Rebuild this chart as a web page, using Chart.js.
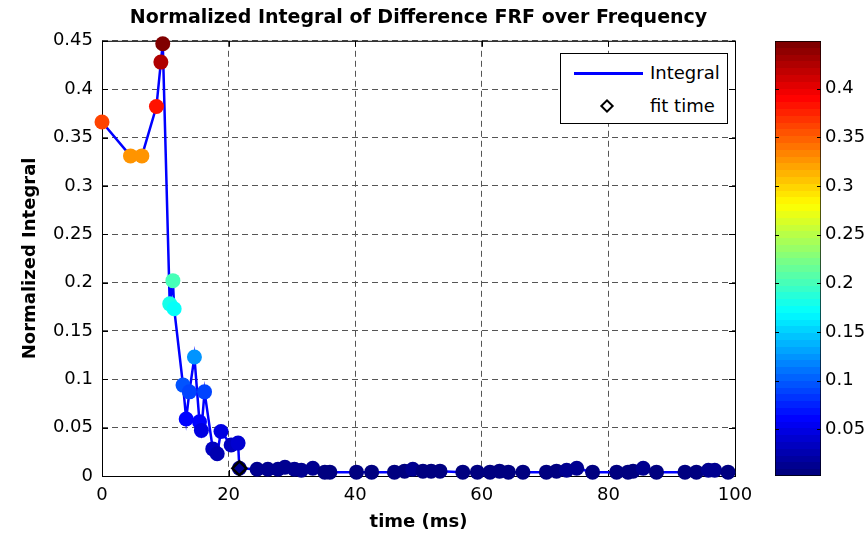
<!DOCTYPE html>
<html>
<head>
<meta charset="utf-8">
<title>Normalized Integral of Difference FRF over Frequency</title>
<script src="https://cdn.jsdelivr.net/npm/chart.js@4"></script>
<style>
  body { margin: 0; background: #fff; }
  #wrap { position: relative; width: 868px; height: 535px; font-family: "DejaVu Sans", sans-serif; }
  #mainChart { position: absolute; left: 0; top: 0; }
  #colorBar { position: absolute; left: 760px; top: 0; }
  .legend { position: absolute; left: 560px; top: 53px; width: 166px; height: 69px; border: 1px solid #000; background: #fff; }
  .legend .line { position: absolute; left: 13px; top: 18px; width: 69px; height: 3px; background: #0000ff; }
  .legend .diamond { position: absolute; left: 41px; top: 47px; width: 6px; height: 6px; border: 2.5px solid #000; transform: rotate(45deg); }
  .legend .lbl { position: absolute; left: 89px; font-size: 18px; line-height: 20px; color: #000; }
</style>
</head>
<body>
<div id="wrap">
  <canvas id="mainChart" width="868" height="535"></canvas>
  <canvas id="colorBar" width="108" height="535"></canvas>
  <div class="legend">
    <span class="line"></span><span class="lbl" style="top:9px">Integral</span>
    <span class="diamond"></span><span class="lbl" style="top:42px">fit time</span>
  </div>
</div>
<script>
// time axis (ms) and normalized integral
const timeMs = [0, 4.5, 6.3, 8.6, 9.3, 9.6, 10.7, 11.2, 11.4, 12.8,
  13.3, 13.8, 14.6, 15.4, 15.7, 16.2, 17.5, 18.2, 18.8, 20.4,
  21.5, 21.7, 24.5, 26.2, 27.8, 28.9, 30.4, 31.5, 33.3, 35.2,
  36.0, 40.2, 42.6, 46.2, 47.8, 49.1, 50.7, 52.0, 53.4, 57.0,
  59.3, 61.3, 62.8, 64.2, 66.5, 70.2, 71.8, 73.4, 75.0, 77.5,
  81.3, 83.1, 83.9, 85.5, 87.6, 92.1, 93.9, 95.8, 96.8, 98.9];
const integralValues = [0.366, 0.331, 0.331, 0.382, 0.428, 0.447, 0.178, 0.202, 0.173, 0.094,
  0.059, 0.087, 0.123, 0.056, 0.047, 0.087, 0.028, 0.023, 0.046, 0.032,
  0.034, 0.008, 0.007, 0.007, 0.007, 0.009, 0.007, 0.006, 0.008, 0.004,
  0.004, 0.004, 0.004, 0.004, 0.005, 0.007, 0.005, 0.005, 0.005, 0.004,
  0.004, 0.004, 0.005, 0.004, 0.004, 0.004, 0.005, 0.006, 0.008, 0.004,
  0.004, 0.004, 0.005, 0.008, 0.004, 0.004, 0.004, 0.006, 0.006, 0.004];
const fitTime = [21.7];
const fitValue = [0.008];
const colorbarTicks = [0.05, 0.1, 0.15, 0.2, 0.25, 0.3, 0.35, 0.4];
const colorMin = 0.002;
const colorMax = 0.449;

const fontFamily = "'DejaVu Sans', sans-serif";

// MATLAB style labels: 0.4 not 0.40
const shortLabel = (v) => String(Number(Number(v).toFixed(2)));

// MATLAB jet, 64 levels
function jetIndex(i) {
  const t = i / 63;
  const c = (x) => Math.round(255 * Math.min(1, Math.max(0, 1.5 - Math.abs(x))));
  return `rgb(${c(4 * t - 3)},${c(4 * t - 2)},${c(4 * t - 1)})`;
}
function jet(v) {
  let t = (v - colorMin) / (colorMax - colorMin);
  t = Math.min(1, Math.max(0, t));
  return jetIndex(Math.round(t * 63));
}

const pointColors = integralValues.map((v) => jet(v));
const integralPoints = timeMs.map((t, i) => ({ x: t, y: integralValues[i] }));
const fitPoints = fitTime.map((t, i) => ({ x: t, y: fitValue[i] }));

// black box round the plot plus small inward tick marks
const axesBox = {
  id: "axesBox",
  beforeDatasetsDraw(chart) {
    const { ctx, chartArea: a, scales } = chart;
    ctx.save();
    ctx.strokeStyle = "#000";
    ctx.lineWidth = 1;
    ctx.strokeRect(a.left + 0.5, a.top + 0.5, a.right - a.left, a.bottom - a.top);
    ctx.beginPath();
    scales.x.ticks.forEach((t) => {
      const px = Math.round(scales.x.getPixelForValue(t.value)) + 0.5;
      ctx.moveTo(px, a.bottom); ctx.lineTo(px, a.bottom - 6);
      ctx.moveTo(px, a.top); ctx.lineTo(px, a.top + 6);
    });
    scales.y.ticks.forEach((t) => {
      const py = Math.round(scales.y.getPixelForValue(t.value)) + 0.5;
      ctx.moveTo(a.left, py); ctx.lineTo(a.left + 6, py);
      ctx.moveTo(a.right, py); ctx.lineTo(a.right - 6, py);
    });
    ctx.stroke();
    ctx.restore();
  },
};

new Chart(document.getElementById("mainChart"), {
  type: "scatter",
  data: {
    datasets: [
      {
        label: "fit time",
        data: fitPoints,
        pointStyle: "rectRot",
        pointRadius: 7,
        backgroundColor: "rgba(0,0,0,0)",
        borderColor: "#000",
        borderWidth: 2.5,
        clip: false,
        order: 0,
      },
      {
        label: "Integral",
        data: integralPoints,
        showLine: true,
        borderColor: "#0000ff",
        borderWidth: 2.5,
        pointRadius: 7.5,
        pointBackgroundColor: pointColors,
        pointBorderColor: pointColors,
        pointBorderWidth: 0,
        clip: false,
        order: 1,
      },
    ],
  },
  options: {
    responsive: false,
    animation: false,
    events: [],
    layout: { padding: { left: 0, right: 133, top: 0, bottom: 0 } },
    plugins: {
      legend: { display: false },
      tooltip: { enabled: false },
      title: {
        display: true,
        fullSize: false,
        text: "Normalized Integral of Difference FRF over Frequency",
        color: "#000",
        font: { family: fontFamily, size: 19, weight: "bold" },
        padding: { top: 7, bottom: 11 },
      },
    },
    scales: {
      x: {
        type: "linear",
        min: 0,
        max: 100,
        ticks: { stepSize: 20, color: "#000", font: { family: fontFamily, size: 18 }, padding: 9 },
        grid: { color: "#555", drawTicks: false },
        border: { display: false, dash: [6, 4] },
        title: {
          display: true,
          text: "time (ms)",
          color: "#000",
          font: { family: fontFamily, size: 18, weight: "bold" },
          padding: { top: 4, bottom: 2 },
        },
        afterFit: (scale) => { scale.height = 59; },
      },
      y: {
        min: 0,
        max: 0.45,
        ticks: {
          stepSize: 0.05,
          color: "#000",
          font: { family: fontFamily, size: 18 },
          padding: 9,
          callback: (v) => shortLabel(v),
        },
        grid: { color: "#555", drawTicks: false },
        border: { display: false, dash: [6, 4] },
        title: {
          display: true,
          text: "Normalized Integral",
          color: "#000",
          font: { family: fontFamily, size: 18, weight: "bold" },
          padding: { top: 20, bottom: 0 },
        },
        afterFit: (scale) => { scale.width = 102; },
      },
    },
  },
  plugins: [axesBox],
});

// colour bar: one floating bar spanning the colour range, filled with jet bands
function jetGradient(chart) {
  const area = chart.chartArea;
  if (!area) return null;
  const g = chart.ctx.createLinearGradient(0, area.bottom, 0, area.top);
  for (let i = 0; i < 64; i++) {
    const c = jetIndex(i);
    g.addColorStop(i / 64, c);
    g.addColorStop((i + 1) / 64, c);
  }
  return g;
}

const barTicks = {
  id: "barTicks",
  afterDatasetsDraw(chart) {
    const { ctx, chartArea: a, scales } = chart;
    ctx.save();
    ctx.strokeStyle = "#000";
    ctx.lineWidth = 1;
    ctx.beginPath();
    scales.y.ticks.forEach((t) => {
      const py = Math.round(scales.y.getPixelForValue(t.value)) + 0.5;
      ctx.moveTo(a.left, py); ctx.lineTo(a.left + 4, py);
      ctx.moveTo(a.right, py); ctx.lineTo(a.right - 4, py);
    });
    ctx.stroke();
    ctx.restore();
  },
};

new Chart(document.getElementById("colorBar"), {
  type: "bar",
  data: {
    labels: [""],
    datasets: [
      {
        data: [[colorMin, colorMax]],
        backgroundColor: (ctx) => jetGradient(ctx.chart),
        borderColor: "#000",
        borderWidth: 1,
        borderSkipped: false,
        barPercentage: 1,
        categoryPercentage: 1,
      },
    ],
  },
  options: {
    responsive: false,
    animation: false,
    events: [],
    layout: { padding: { left: 15, right: 0, top: 41, bottom: 59 } },
    plugins: { legend: { display: false }, tooltip: { enabled: false } },
    scales: {
      x: { display: false },
      y: {
        position: "right",
        min: colorMin,
        max: colorMax,
        afterBuildTicks: (scale) => { scale.ticks = colorbarTicks.map((v) => ({ value: v })); },
        ticks: {
          color: "#000",
          font: { family: fontFamily, size: 18 },
          padding: 4,
          callback: (v) => shortLabel(v),
        },
        grid: { display: false, drawTicks: false },
        border: { display: false },
        afterFit: (scale) => { scale.width = 47; },
      },
    },
  },
  plugins: [barTicks],
});
</script>
</body>
</html>
